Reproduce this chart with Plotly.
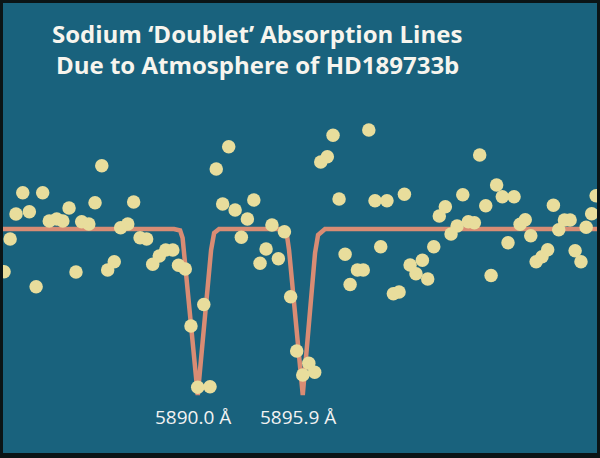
import plotly.graph_objects as go

# Observed spectrum: wavelength (Angstrom) and flux deviation from continuum (per mille)
wavelength = [
    5879.12, 5879.46, 5879.79, 5880.17, 5880.54, 5880.92, 5881.29, 5881.66, 5882.08, 5882.42,
    5882.77, 5883.16, 5883.48, 5883.88, 5884.23, 5884.61, 5884.94, 5885.31, 5885.67, 5886.07,
    5886.40, 5886.76, 5887.13, 5887.47, 5887.84, 5888.20, 5888.60, 5888.92, 5889.30, 5889.62,
    5890.00, 5890.34, 5890.69, 5891.04, 5891.40, 5891.74, 5892.10, 5892.45, 5892.79, 5893.15,
    5893.50, 5893.84, 5894.17, 5894.53, 5894.87, 5895.22, 5895.56, 5895.90, 5896.24, 5896.57,
    5896.91, 5897.28, 5897.60, 5897.94, 5898.28, 5898.56, 5898.97, 5899.30, 5899.61, 5899.96,
    5900.28, 5900.63, 5900.99, 5901.31, 5901.61, 5901.93, 5902.26, 5902.62, 5902.92, 5903.26,
    5903.57, 5903.91, 5904.23, 5904.57, 5904.89, 5905.20, 5905.54, 5905.84, 5906.18, 5906.48,
    5906.79, 5907.11, 5907.43, 5907.77, 5908.11, 5908.40, 5908.71, 5909.01, 5909.34, 5909.66,
    5909.98, 5910.28, 5910.60, 5910.92, 5911.20, 5911.53, 5911.82, 5912.13, 5912.38,
]
flux_dev = [
    -4.27, -1.00, 1.50, 3.63, 1.73, -5.77, 3.63, 0.80, 1.00, 0.80,
    2.10, -4.30, 0.73, 0.50, 2.63, 6.33, -4.10, -3.27, 0.13, 0.50,
    2.70, -0.87, -1.00, -3.53, -2.70, -2.10, -2.10, -3.63, -4.00, -9.70,
    -15.83, -7.55, -15.77, 6.00, 2.50, 8.23, 1.90, -0.83, 1.00, 2.90,
    -3.43, -2.00, 0.40, -2.97, -0.27, -6.77, -12.20, -14.60, -13.43, -14.33,
    6.70, 7.23, 9.37, 3.00, -2.53, -5.54, -4.10, -4.10, 9.90, 2.83,
    -1.77, 2.83, -6.47, -6.30, 3.47, -3.60, -4.47, -3.13, -5.00, -1.77,
    1.30, 2.23, -0.50, 0.30, 3.43, 0.73, 0.63, 7.40, 2.33, -4.65,
    4.40, 3.23, -1.37, 3.23, 0.47, 0.93, -0.67, -3.27, -2.77, -2.07,
    2.37, -0.07, 0.90, 0.90, -2.17, -3.27, 0.17, 1.53, 3.33,
]

# Model absorption profile
model_wl = [5879.06, 5888.67, 5889.01, 5889.15, 5890.00, 5890.75, 5890.92, 5891.20,
            5894.74, 5895.00, 5895.13, 5895.90, 5896.59, 5896.76, 5897.15, 5912.43]
model_dev = [0.0, 0.0, -0.15, -0.9, -16.6, -2.1, -0.4, 0.0,
             0.0, -0.5, -2.1, -16.6, -2.4, -0.6, 0.0, 0.0]

line_centers = [5890.0, 5895.9]
line_labels = ["5890.0 Å", "5895.9 Å"]

title_lines = ["Sodium ‘Doublet’ Absorption Lines", "Due to Atmosphere of HD189733b"]

BG = "#19627d"
fig = go.Figure()
fig.add_trace(go.Scatter(x=model_wl, y=model_dev, mode="lines",
                         line=dict(color="#d98c74", width=4.5), hoverinfo="skip"))
fig.add_trace(go.Scatter(x=wavelength, y=flux_dev, mode="markers",
                         marker=dict(color="#e8dd9c", size=13.5, line=dict(width=0))))

for c, lab in zip(line_centers, line_labels):
    fig.add_annotation(x=c - 0.25, y=-18.75, text=lab, showarrow=False,
                       xanchor="center", yanchor="middle",
                       font=dict(family="Open Sans", size=19, color="#f2f2f2"))

for i, t in enumerate(title_lines):
    fig.add_annotation(xref="paper", yref="paper", x=0.428, y=[0.932, 0.864][i], text="<b>" + t + "</b>",
                       showarrow=False, xanchor="center", yanchor="middle",
                       font=dict(family="Open Sans", size=24, color="#f7f5ee"))

fig.update_layout(
    width=600, height=458,
    margin=dict(l=3, r=3, t=3, b=5),
    paper_bgcolor="#0b1416", plot_bgcolor=BG,
    showlegend=False,
    xaxis=dict(range=[5879.06, 5912.43], visible=False, showgrid=False, zeroline=False),
    yaxis=dict(range=[-22.4, 22.6], visible=False, showgrid=False, zeroline=False),
)
fig.write_html("out.html", config={"displayModeBar": False},
               post_script="document.body.style.margin='0';")
